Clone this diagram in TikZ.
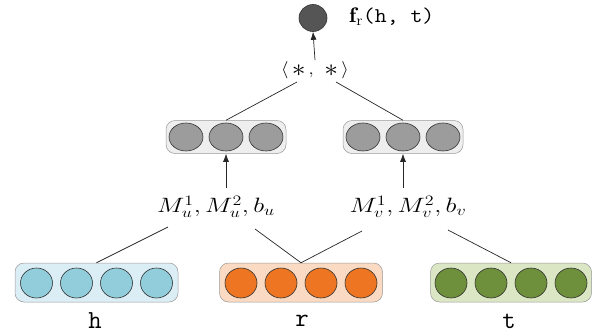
\documentclass[tikz,border=0pt]{standalone}
\usepackage{fontspec}
\usepackage{graphicx}
\usetikzlibrary{shapes.geometric,arrows.meta}
\definecolor{hfill}{HTML}{92CDDC}
\definecolor{hbox}{HTML}{DCEEF5}
\definecolor{rfill}{HTML}{EE7623}
\definecolor{rbox}{HTML}{FADAC2}
\definecolor{tfill}{HTML}{6E8F3C}
\definecolor{tbox}{HTML}{DAE6C4}
\definecolor{gfill}{HTML}{9C9C9C}
\definecolor{gbox}{HTML}{EEEEEE}
\definecolor{topfill}{HTML}{555555}
\newcommand{\bigast}{\raisebox{-0.12em}{\scalebox{1.45}{$\ast$}}}
\begin{document}
\begin{tikzpicture}[x=1pt,y=-1pt,
  unit/.style={ellipse,draw=black!80,line width=0.6pt,minimum width=#1,inner sep=0pt},
  botunit/.style={unit=32pt,minimum height=30pt},
  midunit/.style={unit=34pt,minimum height=28pt},
  layerbox/.style={rectangle,rounded corners=9pt,draw=black!40,line width=0.5pt,inner sep=0pt},
  conn/.style={line width=0.7pt,black!85},
  up/.style={conn,-{Latex[length=8pt,width=6pt]}},
  lbl/.style={font=\fontsize{26}{28}\selectfont\ttfamily},
  parlbl/.style={font=\fontsize{20}{22}\selectfont,inner sep=0pt}]
\useasboundingbox (0,0) rectangle (594,335);
% top output
\node[unit=28pt,minimum height=27pt,fill=topfill] (out) at (313,18) {};
\node[anchor=west,inner sep=0pt,font=\fontsize{21}{24}\selectfont] (ftxt) at (349,17) {\scalebox{1.1}[1]{$\mathbf{f}_{\mathrm{r}}$\ttfamily(h, t)}};
\node[inner sep=1pt,font=\fontsize{19}{22}\selectfont] (star) at (315,70) {\scalebox{1.1}[1]{$\langle\,$\bigast$\,,\;\;$\bigast$\,\rangle$}};
\coordinate (sL) at (297,82);
\coordinate (sR) at (336,82);
% middle layer
\node[layerbox,fill=gbox,minimum width=120pt,minimum height=33pt] (mL) at (226,137) {};
\node[layerbox,fill=gbox,minimum width=120pt,minimum height=33pt] (mR) at (403,137) {};
\foreach \i/\x in {1/186,2/226,3/266}{\node[midunit,fill=gfill] (mL\i) at (\x,137) {};}
\foreach \i/\x in {1/363,2/403,3/443}{\node[midunit,fill=gfill] (mR\i) at (\x,137) {};}
% parameter labels
\node[parlbl] (pL) at (216,207) {\scalebox{1.25}[1]{$M_u^1, M_u^2, b_u$}};
\node[parlbl] (pR) at (408,207) {\scalebox{1.25}[1]{$M_v^1, M_v^2, b_v$}};
\coordinate (pLa) at (226,188);
\coordinate (pRa) at (403,188);
\coordinate (pL1) at (168,227);
\coordinate (pL2) at (255,229);
\coordinate (pR1) at (362,231);
\coordinate (pR2) at (448,230);
% bottom layer
\node[layerbox,fill=hbox,minimum width=163pt,minimum height=39pt] (bh) at (96.5,282.5) {};
\node[layerbox,fill=rbox,minimum width=163pt,minimum height=39pt] (br) at (301,282.5) {};
\node[layerbox,fill=tbox,minimum width=161pt,minimum height=39pt] (bt) at (511,282.5) {};
\foreach \i/\dx in {1/-60,2/-20,3/20,4/60}{
  \node[botunit,fill=hfill] (h\i) at (96.5+\dx,283) {};
  \node[botunit,fill=rfill] (r\i) at (301+\dx,283) {};
  \node[botunit,fill=tfill] (t\i) at (511+\dx,283) {};
}
\node[lbl] (lh) at (95,321) {h};
\node[lbl] (lr) at (302,321) {r};
\node[lbl] (lt) at (509,321) {t};
% connectors
\draw[up] (star.north) -- (out.south);
\draw[conn] (sL) -- (mL.north);
\draw[conn] (sR) -- (mR.north);
\draw[up] (pLa) -- (mL.south);
\draw[up] (pRa) -- (mR.south);
\draw[conn] (pL1) -- (bh.north);
\draw[conn] (pL2) -- (br.north);
\draw[conn] (pR1) -- (br.north);
\draw[conn] (pR2) -- (bt.north);
\end{tikzpicture}
\end{document}
